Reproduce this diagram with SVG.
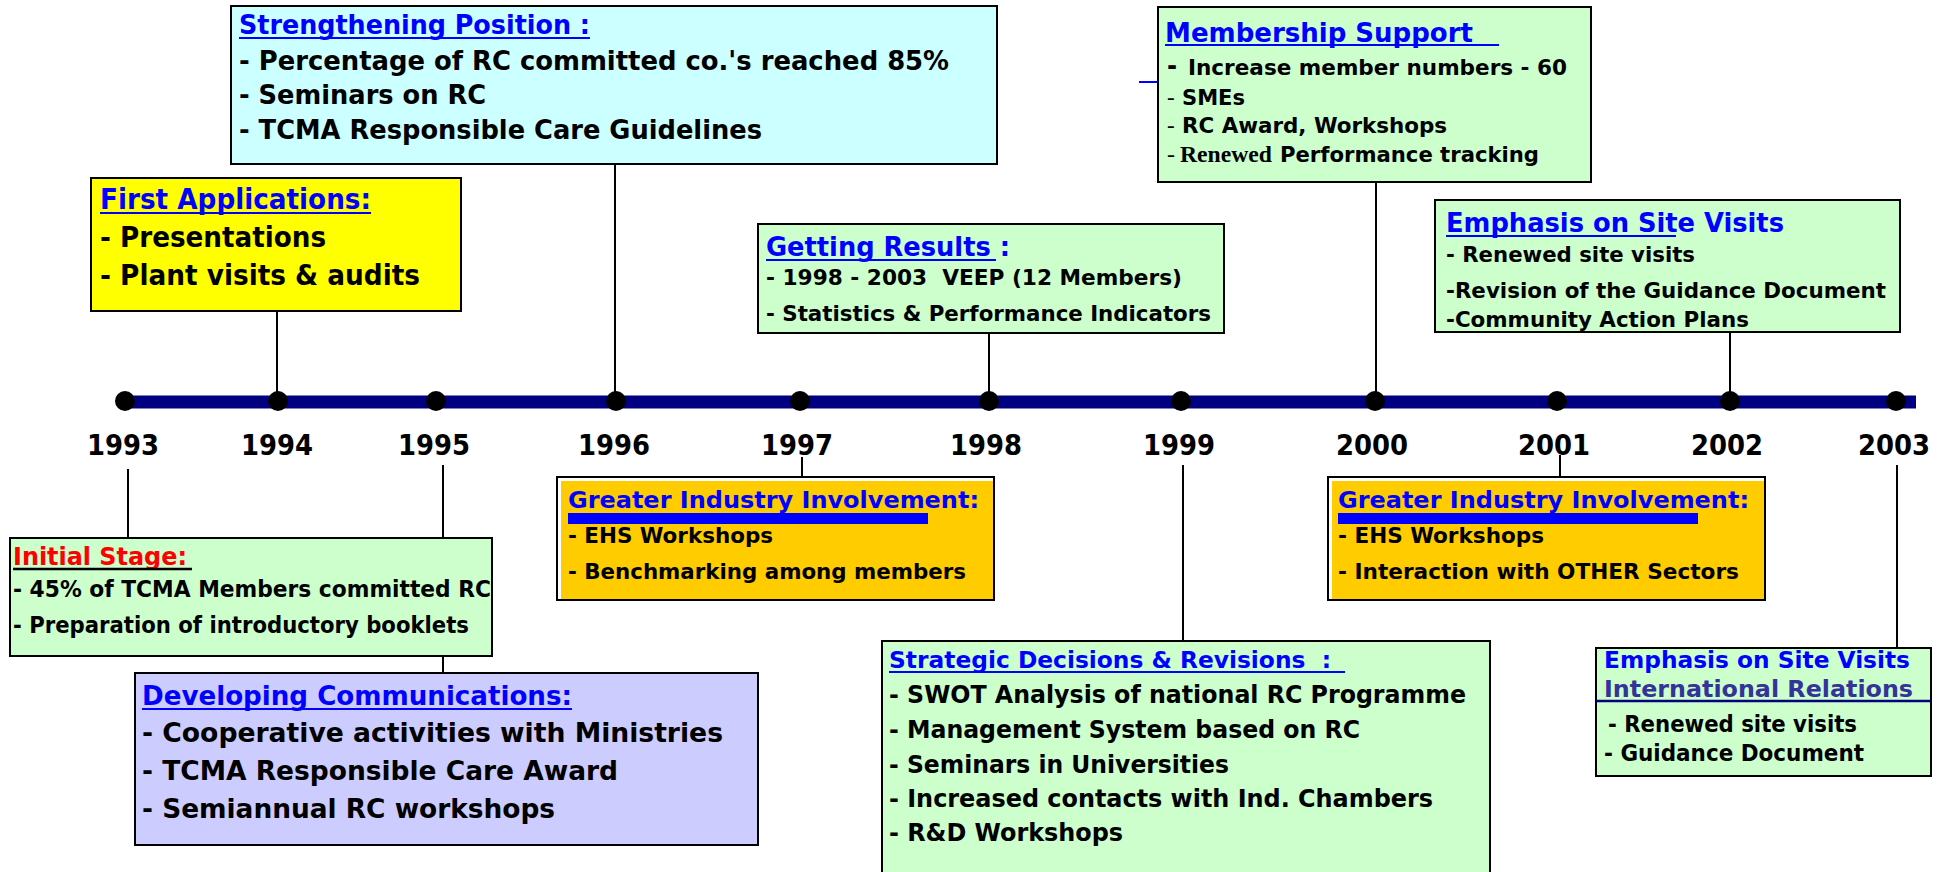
<svg xmlns="http://www.w3.org/2000/svg" width="1948" height="872" viewBox="0 0 1948 872">
<style>
text{font-family:"DejaVu Sans Condensed","DejaVu Sans",sans-serif;font-stretch:condensed;font-weight:bold;fill:#000}
.t{fill:#0000FF}
.yr{font-size:28px;text-anchor:middle}
.box{stroke:#000;stroke-width:2}
.cy{fill:#CCFFFF}.gr{fill:#CCFFCC}.ye{fill:#FFFF00}.pu{fill:#CCCCFF}.or{fill:#FFCC00}
.ul{stroke:#0000FF;stroke-width:2}
.ser{font-family:"Liberation Serif","Times New Roman",serif;font-weight:normal;font-stretch:normal}
.con line{stroke:#000;stroke-width:2}
</style>
<rect width="1948" height="872" fill="#fff"/>

<g id="connectors" class="con">
<line x1="128" y1="469" x2="128" y2="538"/>
<line x1="277" y1="311" x2="277" y2="401"/>
<line x1="443" y1="465" x2="443" y2="672"/>
<line x1="615" y1="164" x2="615" y2="401"/>
<line x1="802" y1="457" x2="802" y2="478"/>
<line x1="989" y1="333" x2="989" y2="401"/>
<line x1="1183" y1="465" x2="1183" y2="641"/>
<line x1="1376" y1="182" x2="1376" y2="401"/>
<line x1="1560" y1="455" x2="1560" y2="477"/>
<line x1="1730" y1="332" x2="1730" y2="401"/>
<line x1="1897" y1="465" x2="1897" y2="648"/>
<line x1="1139" y1="82" x2="1158" y2="82" style="stroke:#0000FF"/>
</g>

<g id="timeline">
<line x1="124" y1="402" x2="1916" y2="402" stroke="#000080" stroke-width="13"/>
<g fill="#000">
<ellipse cx="125" cy="401" rx="10" ry="10"/>
<ellipse cx="278" cy="401" rx="10" ry="10"/>
<ellipse cx="436" cy="401" rx="10" ry="10"/>
<ellipse cx="616" cy="401" rx="10" ry="10"/>
<ellipse cx="800" cy="401" rx="10" ry="10"/>
<ellipse cx="989" cy="401" rx="10" ry="10"/>
<ellipse cx="1181" cy="401" rx="10" ry="10"/>
<ellipse cx="1375" cy="401" rx="10" ry="10"/>
<ellipse cx="1557" cy="401" rx="10" ry="10"/>
<ellipse cx="1730" cy="401" rx="10" ry="10"/>
<ellipse cx="1896" cy="401" rx="10" ry="10"/>
</g>
<text class="yr" x="123" y="455" textLength="72" lengthAdjust="spacingAndGlyphs">1993</text>
<text class="yr" x="277" y="455" textLength="72" lengthAdjust="spacingAndGlyphs">1994</text>
<text class="yr" x="434" y="455" textLength="72" lengthAdjust="spacingAndGlyphs">1995</text>
<text class="yr" x="614" y="455" textLength="72" lengthAdjust="spacingAndGlyphs">1996</text>
<text class="yr" x="797" y="455" textLength="72" lengthAdjust="spacingAndGlyphs">1997</text>
<text class="yr" x="986" y="455" textLength="72" lengthAdjust="spacingAndGlyphs">1998</text>
<text class="yr" x="1179" y="455" textLength="72" lengthAdjust="spacingAndGlyphs">1999</text>
<text class="yr" x="1372" y="455" textLength="72" lengthAdjust="spacingAndGlyphs">2000</text>
<text class="yr" x="1554" y="455" textLength="72" lengthAdjust="spacingAndGlyphs">2001</text>
<text class="yr" x="1727" y="455" textLength="72" lengthAdjust="spacingAndGlyphs">2002</text>
<text class="yr" x="1894" y="455" textLength="72" lengthAdjust="spacingAndGlyphs">2003</text>
</g>

<g id="strengthening" font-size="26">
<rect class="box cy" x="231" y="6" width="766" height="158"/>
<text class="t" x="239" y="34" textLength="351" lengthAdjust="spacingAndGlyphs">Strengthening Position :</text>
<line class="ul" x1="239" y1="38" x2="590" y2="38"/>
<text x="239" y="70" textLength="710" lengthAdjust="spacingAndGlyphs">- Percentage of RC committed co.'s reached 85%</text>
<text x="239" y="104" textLength="247" lengthAdjust="spacingAndGlyphs">- Seminars on RC</text>
<text x="239" y="139" textLength="523" lengthAdjust="spacingAndGlyphs">- TCMA Responsible Care Guidelines</text>
</g>

<g id="first-applications" font-size="28">
<rect class="box ye" x="91" y="178" width="370" height="133"/>
<text class="t" x="100" y="209" textLength="271" lengthAdjust="spacingAndGlyphs">First Applications:</text>
<line class="ul" x1="100" y1="213" x2="371" y2="213"/>
<text x="100" y="247" textLength="226" lengthAdjust="spacingAndGlyphs">- Presentations</text>
<text x="100" y="285" textLength="320" lengthAdjust="spacingAndGlyphs">- Plant visits &amp; audits</text>
</g>

<g id="getting-results" font-size="22">
<rect class="box gr" x="758" y="224" width="466" height="109"/>
<text class="t" x="766" y="256" font-size="26" textLength="244" lengthAdjust="spacingAndGlyphs" xml:space="preserve">Getting Results :</text>
<line class="ul" x1="766" y1="260" x2="996" y2="260"/>
<text x="766" y="285" textLength="416" lengthAdjust="spacingAndGlyphs" xml:space="preserve">- 1998 - 2003  VEEP (12 Members)</text>
<text x="766" y="321" textLength="445" lengthAdjust="spacingAndGlyphs">- Statistics &amp; Performance Indicators</text>
</g>

<g id="membership-support" font-size="21">
<rect class="box gr" x="1158" y="7" width="433" height="175"/>
<text class="t" x="1165" y="42" font-size="27" textLength="308" lengthAdjust="spacingAndGlyphs">Membership Support</text>
<line class="ul" x1="1165" y1="45" x2="1499" y2="45"/>
<text x="1167" y="75" font-size="27">-</text>
<text x="1188" y="75" textLength="379" lengthAdjust="spacingAndGlyphs">Increase member numbers - 60</text>
<text class="ser" x="1167" y="105" font-size="23">-</text>
<text x="1182" y="105" textLength="63" lengthAdjust="spacingAndGlyphs">SMEs</text>
<text class="ser" x="1167" y="133" font-size="23">-</text>
<text x="1182" y="133" textLength="265" lengthAdjust="spacingAndGlyphs">RC Award, Workshops</text>
<text class="ser" x="1167" y="162" font-size="24">-</text>
<text class="ser" x="1180" y="162" font-size="24" style="font-weight:bold" textLength="92" lengthAdjust="spacingAndGlyphs">Renewed</text>
<text x="1280" y="162" textLength="259" lengthAdjust="spacingAndGlyphs">Performance tracking</text>
</g>

<g id="site-visits-2002" font-size="22">
<rect class="box gr" x="1435" y="200" width="465" height="132"/>
<text class="t" x="1446" y="232" font-size="26" textLength="338" lengthAdjust="spacingAndGlyphs">Emphasis on Site Visits</text>
<line class="ul" x1="1446" y1="236" x2="1676" y2="236"/>
<text x="1446" y="262" textLength="249" lengthAdjust="spacingAndGlyphs">- Renewed site visits</text>
<text x="1446" y="298" textLength="440" lengthAdjust="spacingAndGlyphs">-Revision of the Guidance Document</text>
<text x="1446" y="327" textLength="303" lengthAdjust="spacingAndGlyphs">-Community Action Plans</text>
</g>

<g id="initial-stage" font-size="23">
<rect class="box gr" x="10" y="538" width="482" height="118"/>
<text x="13" y="565" font-size="25" style="fill:#FF0000" textLength="174" lengthAdjust="spacingAndGlyphs">Initial Stage:</text>
<line x1="13" y1="569" x2="192" y2="569" stroke="#000" stroke-width="2.5"/>
<text x="13" y="597" textLength="478" lengthAdjust="spacingAndGlyphs">- 45% of TCMA Members committed RC</text>
<text x="13" y="633" textLength="456" lengthAdjust="spacingAndGlyphs">- Preparation of introductory booklets</text>
</g>

<g id="developing-communications" font-size="27">
<rect class="box pu" x="135" y="673" width="623" height="172"/>
<text class="t" x="142" y="705" textLength="430" lengthAdjust="spacingAndGlyphs">Developing Communications:</text>
<line class="ul" x1="142" y1="709" x2="572" y2="709"/>
<text x="142" y="742" textLength="581" lengthAdjust="spacingAndGlyphs">- Cooperative activities with Ministries</text>
<text x="142" y="780" textLength="476" lengthAdjust="spacingAndGlyphs">- TCMA Responsible Care Award</text>
<text x="142" y="818" textLength="413" lengthAdjust="spacingAndGlyphs">- Semiannual RC workshops</text>
</g>

<g id="industry-1997" font-size="22">
<rect x="557" y="477" width="437" height="123" fill="#fff"/>
<rect class="or" x="561" y="481" width="433" height="119"/>
<rect x="557" y="477" width="437" height="123" fill="none" stroke="#000" stroke-width="2"/>
<text class="t" x="568" y="508" font-size="23" textLength="411" lengthAdjust="spacingAndGlyphs">Greater Industry Involvement:</text>
<rect x="568" y="513" width="360" height="11" fill="#0000FF"/>
<text x="568" y="543" textLength="205" lengthAdjust="spacingAndGlyphs">- EHS Workshops</text>
<text x="568" y="579" textLength="398" lengthAdjust="spacingAndGlyphs">- Benchmarking among members</text>
</g>

<g id="strategic-decisions" font-size="24">
<rect class="box gr" x="882" y="641" width="608" height="250"/>
<text class="t" x="889" y="668" font-size="23" textLength="442" lengthAdjust="spacingAndGlyphs" xml:space="preserve">Strategic Decisions &amp; Revisions  :</text>
<line class="ul" x1="889" y1="672" x2="1345" y2="672"/>
<text x="889" y="703" textLength="577" lengthAdjust="spacingAndGlyphs">- SWOT Analysis of national RC Programme</text>
<text x="889" y="738" textLength="471" lengthAdjust="spacingAndGlyphs">- Management System based on RC</text>
<text x="889" y="773" textLength="340" lengthAdjust="spacingAndGlyphs">- Seminars in Universities</text>
<text x="889" y="807" textLength="544" lengthAdjust="spacingAndGlyphs">- Increased contacts with Ind. Chambers</text>
<text x="889" y="841" textLength="234" lengthAdjust="spacingAndGlyphs">- R&amp;D Workshops</text>
</g>

<g id="industry-2001" font-size="22">
<rect x="1328" y="477" width="437" height="123" fill="#fff"/>
<rect class="or" x="1332" y="481" width="433" height="119"/>
<rect x="1328" y="477" width="437" height="123" fill="none" stroke="#000" stroke-width="2"/>
<text class="t" x="1338" y="508" font-size="23" textLength="411" lengthAdjust="spacingAndGlyphs">Greater Industry Involvement:</text>
<rect x="1338" y="513" width="360" height="11" fill="#0000FF"/>
<text x="1338" y="543" textLength="206" lengthAdjust="spacingAndGlyphs">- EHS Workshops</text>
<text x="1338" y="579" textLength="401" lengthAdjust="spacingAndGlyphs">- Interaction with OTHER Sectors</text>
</g>

<g id="site-visits-2003" font-size="23">
<rect class="box gr" x="1596" y="648" width="335" height="128"/>
<text class="t" x="1604" y="668" textLength="306" lengthAdjust="spacingAndGlyphs">Emphasis on Site Visits</text>
<text x="1604" y="697" style="fill:#333399" textLength="309" lengthAdjust="spacingAndGlyphs">International Relations</text>
<line x1="1596" y1="701" x2="1931" y2="701" stroke="#000080" stroke-width="2.5"/>
<text x="1608" y="732" textLength="249" lengthAdjust="spacingAndGlyphs">- Renewed site visits</text>
<text x="1604" y="761" textLength="260" lengthAdjust="spacingAndGlyphs">- Guidance Document</text>
</g>
</svg>
